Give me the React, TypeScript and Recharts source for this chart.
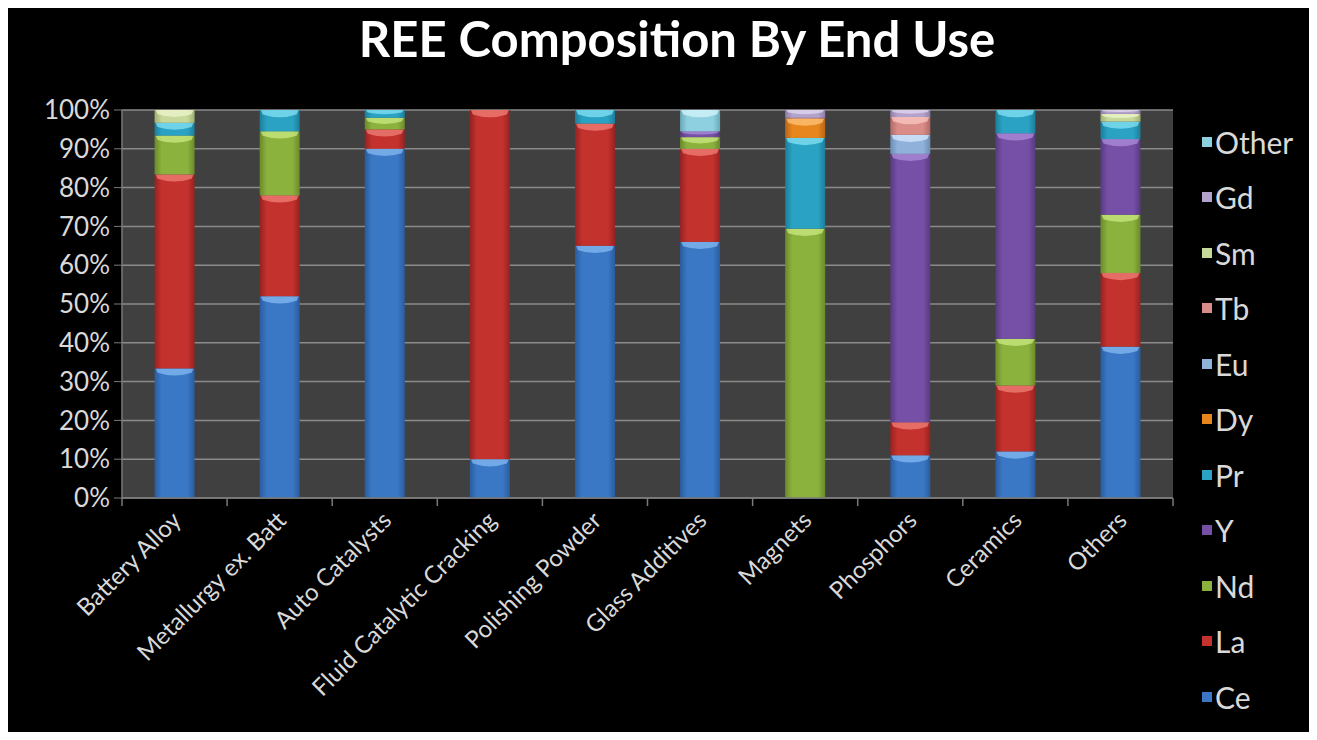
import React from "react";
import { BarChart, Bar, XAxis, YAxis, CartesianGrid } from "recharts";

// End-use categories along the x axis
const categories = [
  "Battery Alloy",
  "Metallurgy ex. Batt",
  "Auto Catalysts",
  "Fluid Catalytic Cracking",
  "Polishing Powder",
  "Glass Additives",
  "Magnets",
  "Phosphors",
  "Ceramics",
  "Others",
];

// Share of each rare earth element per end use (%), stacked bottom to top
const ce = [33.4, 52, 90, 10, 65, 66, 0, 11, 12, 39];
const la = [50, 26, 5, 90, 31.5, 24, 0, 8.5, 17, 19];
const nd = [10, 16.5, 3, 0, 0, 3, 69.4, 0, 12, 15];
const y = [0, 0, 0, 0, 0, 1.5, 0, 69.2, 53, 19.5];
const pr = [3.3, 5.5, 2, 0, 3.5, 0, 23.4, 0, 6, 4.5];
const dy = [0, 0, 0, 0, 0, 0, 5, 0, 0, 0];
const eu = [0, 0, 0, 0, 0, 0, 0, 4.9, 0, 0];
const tb = [0, 0, 0, 0, 0, 0, 0.2, 4.6, 0, 0];
const sm = [3.3, 0, 0, 0, 0, 0, 0, 0, 0, 2];
const gd = [0, 0, 0, 0, 0, 0, 2, 1.8, 0, 1];
const other = [0, 0, 0, 0, 0, 5.5, 0, 0, 0, 0];

const yTicks = [0, 10, 20, 30, 40, 50, 60, 70, 80, 90, 100];

const seriesNames = ["Ce", "La", "Nd", "Y", "Pr", "Dy", "Eu", "Tb", "Sm", "Gd", "Other"];
const seriesValues = [ce, la, nd, y, pr, dy, eu, tb, sm, gd, other];

// base / highlight / shade per element
const palette: Record<string, [string, string, string]> = {
  Ce: ["#3a78c6", "#86b9f2", "#2a5c9e"],
  La: ["#c4322e", "#f2807a", "#962220"],
  Nd: ["#8cb23e", "#cbe982", "#6a8a2a"],
  Y: ["#7650a6", "#ad8edb", "#583a80"],
  Pr: ["#2aa2c4", "#86e2f6", "#1c7e9a"],
  Dy: ["#e8861e", "#ffc47c", "#b86614"],
  Eu: ["#8fb1da", "#d8e9fc", "#6d8db5"],
  Tb: ["#d98c88", "#fac8c4", "#b06a66"],
  Sm: ["#c6d89a", "#eff6cc", "#9eb072"],
  Gd: ["#b3a2cc", "#e2d8f2", "#8e7ea8"],
  Other: ["#8fd0e0", "#d6f5fb", "#6aa8b8"],
};

const data = categories.map((name, i) => {
  const row: Record<string, string | number> = { name };
  seriesNames.forEach((s, k) => {
    row[s] = seriesValues[k][i];
  });
  return row;
});

const W = 1309;
const H = 732;
const M_TOP = 102;
const M_RIGHT = 144;
const Y_AXIS_W = 114;
const X_AXIS_H = 242;
const PLOT_W = W - M_RIGHT - Y_AXIS_W;
const BAND = PLOT_W / categories.length;

const textFont = "Lato, 'Open Sans', sans-serif";
const textColor = "#d9d9d9";

const BevelShape = (props: any) => {
  const { x, y: top, width, height, seriesKey } = props;
  if (!height || height <= 0.05) return null;
  const [, light] = palette[seriesKey];
  const hl = Math.min(8, height * 0.6);
  const w = width;
  return (
    <g>
      <rect x={x} y={top} width={w} height={height} fill={`url(#grad-${seriesKey})`} />
      <path
        d={`M${x + 1},${top} H${x + w - 1} L${x + w - 3},${top + hl * 0.55} Q${x + w / 2},${top + hl * 1.25} ${x + 3},${top + hl * 0.55} Z`}
        fill={light}
        opacity={0.75}
      />
    </g>
  );
};

const XTick = (props: any) => {
  const { x, y: ty, payload, index } = props;
  const left = x - BAND / 2;
  const ax = x + 8;
  const ay = ty + 16;
  return (
    <g>
      <line x1={left} y1={ty - 8} x2={left} y2={ty} stroke="#7a7a7a" strokeWidth={1.5} />
      {index === categories.length - 1 && (
        <line x1={x + BAND / 2} y1={ty - 8} x2={x + BAND / 2} y2={ty} stroke="#7a7a7a" strokeWidth={1.5} />
      )}
      <text
        x={ax}
        y={ay}
        transform={`rotate(-45 ${ax} ${ay})`}
        textAnchor="end"
        fill={textColor}
        fontSize={24}
        fontFamily={textFont}
      >
        {payload.value}
      </text>
    </g>
  );
};

// Legend lists the elements top-down in reverse stacking order
const legendItems = [...seriesNames].reverse();

export default function App() {
  return (
    <div
      style={{
        position: "relative",
        width: W,
        height: H,
        marginBottom: -8,
        background: "#000",
        overflow: "hidden",
      }}
    >
      <div
        style={{
          position: "absolute",
          left: 669,
          top: 1,
          transform: "translateX(-50%)",
          whiteSpace: "nowrap",
          fontFamily: textFont,
          fontWeight: 700,
          fontSize: 49,
          color: "#ffffff",
        }}
      >
        REE Composition By End Use
      </div>
      <BarChart
        width={W}
        height={H}
        data={data}
        margin={{ top: M_TOP, right: M_RIGHT, left: 0, bottom: 0 }}
        barCategoryGap="31%"
      >
        <defs>
          {seriesNames.map((s) => (
            <linearGradient key={s} id={`grad-${s}`} x1="0" y1="0" x2="1" y2="0">
              <stop offset="0%" stopColor={palette[s][2]} />
              <stop offset="18%" stopColor={palette[s][0]} />
              <stop offset="82%" stopColor={palette[s][0]} />
              <stop offset="100%" stopColor={palette[s][2]} />
            </linearGradient>
          ))}
        </defs>
        <CartesianGrid
          vertical={false}
          fill="#404040"
          stroke="#8a8a8a"
          strokeWidth={1.5}
          horizontalValues={yTicks}
        />
        <XAxis
          dataKey="name"
          interval={0}
          height={X_AXIS_H}
          axisLine={{ stroke: "#7a7a7a", strokeWidth: 1.5 }}
          tickLine={false}
          tick={<XTick />}
        />
        <YAxis
          width={Y_AXIS_W}
          domain={[0, 100]}
          ticks={yTicks}
          allowDataOverflow
          tickFormatter={(v: number) => `${v}%`}
          axisLine={{ stroke: "#7a7a7a", strokeWidth: 1.5 }}
          tickLine={{ stroke: "#7a7a7a" }}
          tickSize={8}
          tickMargin={4}
          tick={{ fill: textColor, fontSize: 26, fontFamily: textFont }}
        />
        {seriesNames.map((s) => (
          <Bar
            key={s}
            dataKey={s}
            stackId="ree"
            fill={palette[s][0]}
            isAnimationActive={false}
            shape={(p: any) => <BevelShape {...p} seriesKey={s} />}
          />
        ))}
      </BarChart>
      <div
        style={{
          position: "absolute",
          left: 1194,
          top: 106,
          display: "flex",
          flexDirection: "column",
        }}
      >
        {legendItems.map((s) => (
          <div
            key={s}
            style={{
              display: "flex",
              alignItems: "center",
              height: 55.5,
              fontFamily: textFont,
              fontSize: 30,
              color: textColor,
              whiteSpace: "nowrap",
            }}
          >
            <span
              style={{
                display: "inline-block",
                width: 10,
                height: 10,
                background: palette[s][0],
                marginRight: 3,
              }}
            />
            {s}
          </div>
        ))}
      </div>
    </div>
  );
}
